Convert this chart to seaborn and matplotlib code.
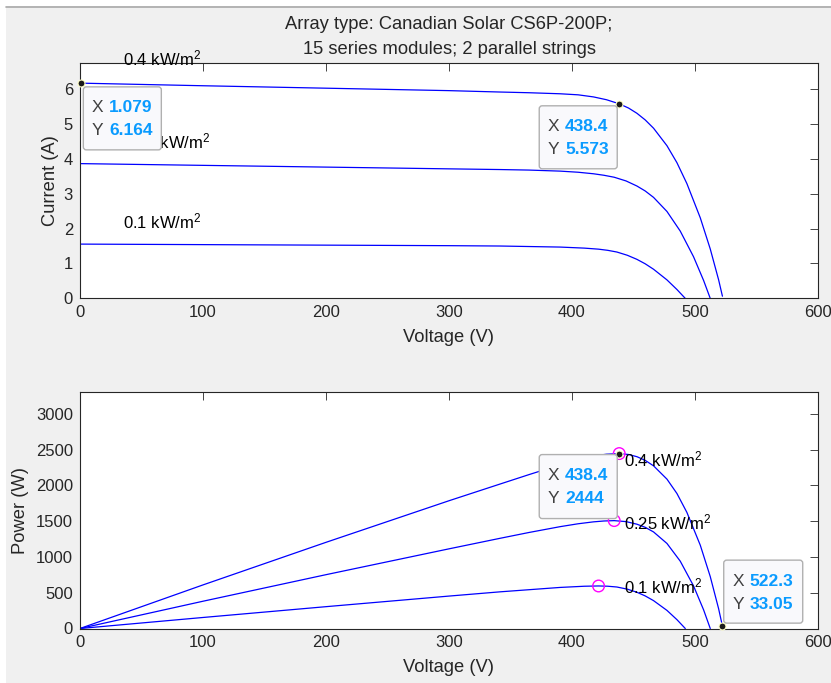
import matplotlib
matplotlib.use('Agg')
import matplotlib.pyplot as plt
import seaborn as sns
import pandas as pd
from matplotlib.patches import FancyBboxPatch, Rectangle
from matplotlib.lines import Line2D
from matplotlib.transforms import IdentityTransform

# I-V curves (voltage V, current A)
irr_names = ['0.4', '0.25', '0.1']

v_04 = [1.079, 100, 200, 300, 341.6, 365, 390.4, 405, 417.5, 428, 438.4, 446,
        452.8, 459.5, 466.3, 477.2, 485.3, 493.4, 504.3, 512.4, 519.2, 522.3]
i_04 = [6.164, 6.09, 6.02, 5.95, 5.91, 5.89, 5.86, 5.83, 5.77, 5.69, 5.573, 5.451,
        5.301, 5.112, 4.874, 4.373, 3.887, 3.288, 2.307, 1.416, 0.532, 0.0633]

v_025 = [0, 100, 200, 300, 341.6, 365, 390.4, 405, 417.5, 426, 434.3, 444,
         452.8, 459.5, 466.3, 477.2, 488.0, 498.8, 507.0, 512.4]
i_025 = [3.86, 3.81, 3.76, 3.71, 3.69, 3.675, 3.645, 3.613, 3.569, 3.526, 3.47, 3.363,
         3.218, 3.077, 2.893, 2.490, 1.928, 1.194, 0.513, 0.0]

v_01 = [0, 100, 200, 300, 341.6, 390.4, 410, 421.6, 429.0, 436.5, 445, 452.8,
        459.5, 466.3, 477.2, 485.3, 492.1]
i_01 = [1.555, 1.54, 1.525, 1.51, 1.50, 1.47, 1.44, 1.41, 1.377, 1.328, 1.235, 1.118,
        0.991, 0.835, 0.530, 0.255, 0.0]

# maximum power points (magenta circles)
mpp_v = [438.4, 434.3, 421.6]
mpp_p = [2444, 1508, 594]

# data tips: (x, y, text x, text y)
tips_iv = [(1.079, 6.164, '1.079', '6.164'), (438.4, 5.573, '438.4', '5.573')]
tips_pv = [(438.4, 2444, '438.4', '2444'), (522.3, 33.05, '522.3', '33.05')]

frames = []
for name, v, i in zip(irr_names, [v_04, v_025, v_01], [i_04, i_025, i_01]):
    d = pd.DataFrame({'V': v, 'I': i})
    d['irr'] = name
    frames.append(d)
df = pd.concat(frames, ignore_index=True)
df['P'] = df['V'] * df['I']

sns.set_theme(style='white')
plt.rcParams['font.family'] = ['Liberation Sans', 'DejaVu Sans']
plt.rcParams['mathtext.default'] = 'regular'

W, H = 831, 683
fig = plt.figure(figsize=(W / 100, H / 100), dpi=100, facecolor='#f0f0f0')

# window frame edge
fig.add_artist(Rectangle((0, H - 6), W, 6, transform=IdentityTransform(),
                         facecolor='white', edgecolor='none', zorder=-1))
fig.add_artist(Rectangle((0, 0), 6, H, transform=IdentityTransform(),
                         facecolor='white', edgecolor='none', zorder=-1))
fig.add_artist(Line2D([6, W], [H - 6.5, H - 6.5], transform=IdentityTransform(),
                      color='#a8a8a8', lw=1.2, zorder=-1))


def px_axes(left, top, right, bottom):
    return fig.add_axes([left / W, 1 - bottom / H, (right - left) / W, (bottom - top) / H])


ax1 = px_axes(80, 62.7, 818, 298.4)
ax2 = px_axes(80, 392.3, 818, 628.5)

dark = '#262626'
for ax in (ax1, ax2):
    ax.set_facecolor('white')
    for s in ax.spines.values():
        s.set_color(dark)
        s.set_linewidth(0.8)
    ax.tick_params(direction='in', top=True, right=True, length=5.5, width=0.6,
                   color=dark, labelcolor=dark, labelsize=12, pad=5)

sns.lineplot(data=df, x='V', y='I', units='irr', estimator=None, sort=False,
             color='blue', lw=0.9, ax=ax1)
sns.lineplot(data=df, x='V', y='P', units='irr', estimator=None, sort=False,
             color='blue', lw=0.9, ax=ax2)
sns.scatterplot(x=mpp_v, y=mpp_p, marker='o', s=70, ax=ax2, zorder=4)
ax2.collections[-1].set_facecolor('none')
ax2.collections[-1].set_edgecolor('#ff00ff')
ax2.collections[-1].set_linewidth(1.0)

ax1.set_xlim(0, 600)
ax1.set_ylim(0, 6.75)
ax1.set_xticks(range(0, 601, 100))
ax1.set_yticks(range(0, 7))
ax2.set_xlim(0, 600)
ax2.set_ylim(0, 3300)
ax2.set_xticks(range(0, 601, 100))
ax2.set_yticks(range(0, 3001, 500))

ax1.set_xlabel('Voltage (V)', fontsize=13.2, color=dark)
ax1.set_ylabel('Current (A)', fontsize=13.2, color=dark)
ax2.set_xlabel('Voltage (V)', fontsize=13.2, color=dark)
ax2.set_ylabel('Power (W)', fontsize=13.2, color=dark)
ax1.xaxis.set_label_coords(0.5, -0.128)
ax2.xaxis.set_label_coords(0.5, -0.128)
ax1.yaxis.set_label_coords(-0.028, 0.5)
ax2.yaxis.set_label_coords(-0.069, 0.5)

fig.text(449 / W, 1 - 57.5 / H,
         'Array type: Canadian Solar CS6P-200P;\n15 series modules; 2 parallel strings',
         ha='center', va='bottom', fontsize=13.2, color=dark, linespacing=1.6)

# curve labels
lab_txt = [n + ' kW/m$^2$' for n in irr_names]
for txt, y in zip(lab_txt, [6.86, 4.5, 2.21]):
    ax1.text(35, y, txt, fontsize=12, va='center', ha='left', color='black', zorder=4)
for txt, y in zip(lab_txt, [2360, 1475, 585]):
    ax2.text(442, y, txt, fontsize=12, va='center', ha='left', color='black', zorder=4)


def data_tip(ax, tip, dx, dy, w=78, h=63):
    x, y, sx, sy = tip
    ax.plot([x], [y], 'o', ms=5, mfc='#1a1a1a', mec='#ffffc8', mew=0.8,
            clip_on=False, zorder=7)
    px, py = ax.transData.transform((x, y))
    left = px + dx
    top = py - dy
    box = FancyBboxPatch((left, top - h), w, h,
                         boxstyle='round,pad=0,rounding_size=3',
                         transform=IdentityTransform(), facecolor='#f9f9fc',
                         edgecolor='#b0b0b0', lw=1.0, zorder=6)
    fig.add_artist(box)
    for k, (lab, val) in enumerate([('X', sx), ('Y', sy)]):
        yy = top - 21 - 23 * k
        fig.text(left + 8.5, yy, lab, transform=IdentityTransform(), fontsize=12.5,
                 color='#404040', va='center', ha='left', zorder=7)
        fig.text(left + 26, yy, val, transform=IdentityTransform(), fontsize=12.5,
                 color='#0a9bff', fontweight='bold', va='center', ha='left', zorder=7)


data_tip(ax1, tips_iv[0], 2, 3.7)
data_tip(ax1, tips_iv[1], -80, 2)
data_tip(ax2, tips_pv[0], -80, 1, h=64)
data_tip(ax2, tips_pv[1], 1.3, -66, w=79)

fig.savefig('out.png', dpi=100, facecolor=fig.get_facecolor())
